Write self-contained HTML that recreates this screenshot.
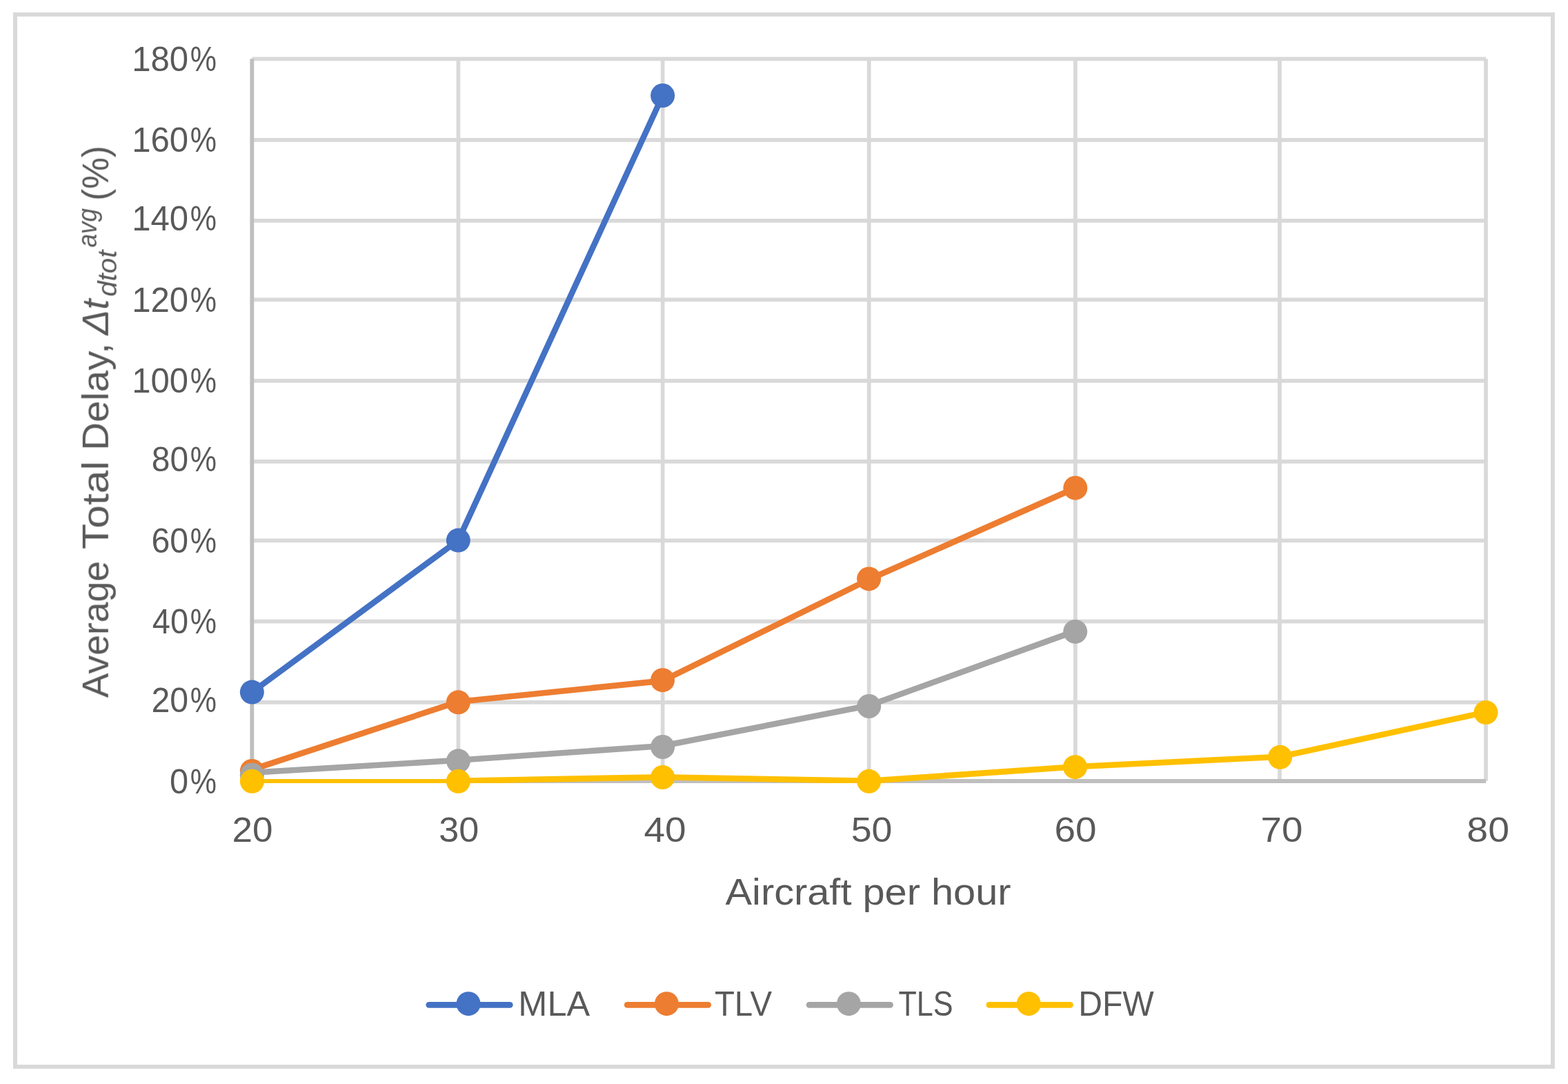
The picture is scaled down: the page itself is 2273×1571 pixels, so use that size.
<!DOCTYPE html>
<html lang="en">
<head>
<meta charset="utf-8">
<title>Average Total Delay vs Aircraft per hour</title>
<style>
html,body{margin:0;padding:0;background:#fff;}
body{width:2273px;height:1571px;overflow:hidden;}
svg{display:block;}
.frame{filter:blur(0.35px);}
.series{filter:blur(0.6px);}
.labels{filter:blur(0.75px);}
text{font-family:"Liberation Sans",sans-serif;fill:#595959;}
.i{font-style:italic;}
</style>
</head>
<body>
<svg width="2273" height="1571" viewBox="0 0 2273 1571">
<rect x="0" y="0" width="2273" height="1571" fill="#ffffff"/>
<g class="frame">
<rect x="22" y="21" width="2228.9" height="1524.9" fill="none" stroke="#D9D9D9" stroke-width="5.9"/>
<g stroke="#D9D9D9" stroke-width="5.7" fill="none">
<line x1="365.3" y1="1017.9" x2="2154.0" y2="1017.9"/>
<line x1="365.3" y1="900.6" x2="2154.0" y2="900.6"/>
<line x1="365.3" y1="783.3" x2="2154.0" y2="783.3"/>
<line x1="365.3" y1="668.9" x2="2154.0" y2="668.9"/>
<line x1="365.3" y1="551.8" x2="2154.0" y2="551.8"/>
<line x1="365.3" y1="434.3" x2="2154.0" y2="434.3"/>
<line x1="365.3" y1="319.8" x2="2154.0" y2="319.8"/>
<line x1="365.3" y1="202.8" x2="2154.0" y2="202.8"/>
<line x1="365.3" y1="85.3" x2="2154.0" y2="85.3"/>
<line x1="664.4" y1="85.3" x2="664.4" y2="1132.0"/>
<line x1="960.6" y1="85.3" x2="960.6" y2="1132.0"/>
<line x1="1259.7" y1="85.3" x2="1259.7" y2="1132.0"/>
<line x1="1558.9" y1="85.3" x2="1558.9" y2="1132.0"/>
<line x1="1855.0" y1="85.3" x2="1855.0" y2="1132.0"/>
<line x1="2154.0" y1="85.3" x2="2154.0" y2="1132.0"/>
</g>
<g stroke="#BFBFBF" stroke-width="5.9" fill="none">
<line x1="365.3" y1="1132.0" x2="2154.0" y2="1132.0"/>
<line x1="365.3" y1="85.3" x2="365.3" y2="1132.0"/>
</g>
</g>
<g class="series">
<defs><clipPath id="plot"><rect x="362.3" y="82.4" width="1794.6" height="1052.6"/></clipPath></defs>
<g>
<polyline clip-path="url(#plot)" fill="none" stroke="#4472C4" stroke-width="8.6" stroke-linejoin="round" stroke-linecap="butt" points="365.3,1003.1 664.3,783.1 960.6,138.5"/>
<circle cx="365.3" cy="1003.1" r="17.5" fill="#4472C4"/>
<circle cx="664.3" cy="783.1" r="17.5" fill="#4472C4"/>
<circle cx="960.6" cy="138.5" r="17.5" fill="#4472C4"/>
</g>
<g>
<polyline clip-path="url(#plot)" fill="none" stroke="#ED7D31" stroke-width="8.6" stroke-linejoin="round" stroke-linecap="butt" points="365.3,1115.4 664.3,1017.0 960.5,986.6 1259.6,839.8 1558.8,707.2"/>
<circle cx="365.3" cy="1117.4" r="17.5" fill="#ED7D31"/>
<circle cx="664.3" cy="1017.8" r="17.5" fill="#ED7D31"/>
<circle cx="960.5" cy="985.7" r="17.5" fill="#ED7D31"/>
<circle cx="1259.6" cy="838.9" r="17.5" fill="#ED7D31"/>
<circle cx="1558.8" cy="707.2" r="17.5" fill="#ED7D31"/>
</g>
<g>
<polyline clip-path="url(#plot)" fill="none" stroke="#A5A5A5" stroke-width="8.6" stroke-linejoin="round" stroke-linecap="butt" points="365.3,1119.8 664.3,1101.8 960.6,1081.0 1259.7,1022.5 1558.7,914.6"/>
<circle cx="365.3" cy="1123.2" r="17.5" fill="#A5A5A5"/>
<circle cx="664.4" cy="1102.8" r="17.5" fill="#A5A5A5"/>
<circle cx="960.6" cy="1082.5" r="17.5" fill="#A5A5A5"/>
<circle cx="1259.7" cy="1023.5" r="17.5" fill="#A5A5A5"/>
<circle cx="1558.7" cy="915.4" r="17.5" fill="#A5A5A5"/>
</g>
<g>
<rect x="365.4" y="1129.1" width="298.9" height="5.9" fill="#FFC000"/>
<polyline clip-path="url(#plot)" fill="none" stroke="#FFC000" stroke-width="8.6" stroke-linejoin="round" stroke-linecap="butt" points="664.3,1131.8 960.6,1126.2 1259.7,1131.8 1558.5,1111.2 1855.0,1096.8 2153.9,1032.1"/>
<circle cx="365.4" cy="1132.3" r="17.5" fill="#FFC000"/>
<circle cx="664.3" cy="1132.3" r="17.5" fill="#FFC000"/>
<circle cx="960.6" cy="1126.5" r="17.5" fill="#FFC000"/>
<circle cx="1259.7" cy="1132.3" r="17.5" fill="#FFC000"/>
<circle cx="1558.5" cy="1111.7" r="17.5" fill="#FFC000"/>
<circle cx="1855.6" cy="1097.3" r="17.5" fill="#FFC000"/>
<circle cx="2153.9" cy="1032.6" r="17.5" fill="#FFC000"/>
</g>
</g>
<g class="labels">
<g font-size="50.0">
<text y="102.90"><tspan x="191.16" textLength="81.96" lengthAdjust="spacingAndGlyphs">180</tspan><tspan x="275.77" textLength="38.27" lengthAdjust="spacingAndGlyphs">%</tspan></text>
<text y="220.25"><tspan x="191.16" textLength="81.96" lengthAdjust="spacingAndGlyphs">160</tspan><tspan x="275.77" textLength="38.27" lengthAdjust="spacingAndGlyphs">%</tspan></text>
<text y="334.25"><tspan x="191.16" textLength="81.96" lengthAdjust="spacingAndGlyphs">140</tspan><tspan x="275.77" textLength="38.27" lengthAdjust="spacingAndGlyphs">%</tspan></text>
<text y="451.70"><tspan x="191.16" textLength="81.96" lengthAdjust="spacingAndGlyphs">120</tspan><tspan x="275.77" textLength="38.27" lengthAdjust="spacingAndGlyphs">%</tspan></text>
<text y="569.05"><tspan x="191.37" textLength="81.75" lengthAdjust="spacingAndGlyphs">100</tspan><tspan x="275.77" textLength="38.27" lengthAdjust="spacingAndGlyphs">%</tspan></text>
<text y="683.10"><tspan x="219.82" textLength="53.25" lengthAdjust="spacingAndGlyphs">80</tspan><tspan x="275.77" textLength="38.27" lengthAdjust="spacingAndGlyphs">%</tspan></text>
<text y="800.55"><tspan x="219.45" textLength="53.63" lengthAdjust="spacingAndGlyphs">60</tspan><tspan x="275.77" textLength="38.27" lengthAdjust="spacingAndGlyphs">%</tspan></text>
<text y="917.85"><tspan x="220.82" textLength="52.21" lengthAdjust="spacingAndGlyphs">40</tspan><tspan x="275.77" textLength="38.27" lengthAdjust="spacingAndGlyphs">%</tspan></text>
<text y="1032.15"><tspan x="219.48" textLength="53.61" lengthAdjust="spacingAndGlyphs">20</tspan><tspan x="275.77" textLength="38.27" lengthAdjust="spacingAndGlyphs">%</tspan></text>
<text y="1149.75"><tspan x="246.00" textLength="27.11" lengthAdjust="spacingAndGlyphs">0</tspan><tspan x="275.77" textLength="38.27" lengthAdjust="spacingAndGlyphs">%</tspan></text>
<text x="336.44" y="1219.70" textLength="58.93" lengthAdjust="spacingAndGlyphs">20</text>
<text x="636.22" y="1219.70" textLength="57.92" lengthAdjust="spacingAndGlyphs">30</text>
<text x="933.54" y="1219.70" textLength="61.11" lengthAdjust="spacingAndGlyphs">40</text>
<text x="1233.65" y="1219.70" textLength="59.64" lengthAdjust="spacingAndGlyphs">50</text>
<text x="1528.41" y="1219.70" textLength="61.03" lengthAdjust="spacingAndGlyphs">60</text>
<text x="1827.59" y="1219.70" textLength="60.95" lengthAdjust="spacingAndGlyphs">70</text>
<text x="2126.39" y="1219.70" textLength="61.57" lengthAdjust="spacingAndGlyphs">80</text>
<text x="751.36" y="1471.90" textLength="103.74" lengthAdjust="spacingAndGlyphs">MLA</text>
<text x="1035.88" y="1471.90" textLength="83.32" lengthAdjust="spacingAndGlyphs">TLV</text>
<text x="1302.43" y="1471.90" textLength="79.15" lengthAdjust="spacingAndGlyphs">TLS</text>
<text x="1563.15" y="1471.90" textLength="109.61" lengthAdjust="spacingAndGlyphs">DFW</text>
</g>
<line x1="621.8" y1="1456.3" x2="739.2" y2="1456.3" stroke="#4472C4" stroke-width="8.8" stroke-linecap="round"/>
<circle cx="679.05" cy="1454.7" r="17.5" fill="#4472C4"/>
<line x1="909.2" y1="1456.3" x2="1026.6" y2="1456.3" stroke="#ED7D31" stroke-width="8.8" stroke-linecap="round"/>
<circle cx="966.40" cy="1454.7" r="17.5" fill="#ED7D31"/>
<line x1="1173.1" y1="1456.3" x2="1290.5" y2="1456.3" stroke="#A5A5A5" stroke-width="8.8" stroke-linecap="round"/>
<circle cx="1230.40" cy="1454.7" r="17.5" fill="#A5A5A5"/>
<line x1="1433.9" y1="1456.3" x2="1551.4" y2="1456.3" stroke="#FFC000" stroke-width="8.8" stroke-linecap="round"/>
<circle cx="1491.30" cy="1454.7" r="17.5" fill="#FFC000"/>
<text x="1051.59" y="1310.7" font-size="54.5" textLength="413.97" lengthAdjust="spacingAndGlyphs">Aircraft per hour</text>
<g transform="translate(156.8 1011.3) rotate(-90)">
<text font-size="54.5"><tspan x="-0.10" y="0.00" font-size="54.5" textLength="198.47" lengthAdjust="spacingAndGlyphs">Average</tspan> <tspan x="215.21" y="0.00" font-size="54.5" textLength="127.94" lengthAdjust="spacingAndGlyphs">Total</tspan> <tspan x="358.50" y="0.00" font-size="54.5" textLength="155.64" lengthAdjust="spacingAndGlyphs">Delay,</tspan> <tspan class="i" x="525.77" y="0.00" font-size="54.5" textLength="52.03" lengthAdjust="spacingAndGlyphs">Δt</tspan><tspan class="i" x="581.44" y="12.10" font-size="39.0" textLength="67.16" lengthAdjust="spacingAndGlyphs">dtot</tspan><tspan class="i" x="652.71" y="-17.20" font-size="39.0" textLength="56.60" lengthAdjust="spacingAndGlyphs">avg</tspan> <tspan x="720.42" y="0.00" font-size="54.5" textLength="79.76" lengthAdjust="spacingAndGlyphs">(%)</tspan></text>
</g>
</g>
</svg>
</body>
</html>
